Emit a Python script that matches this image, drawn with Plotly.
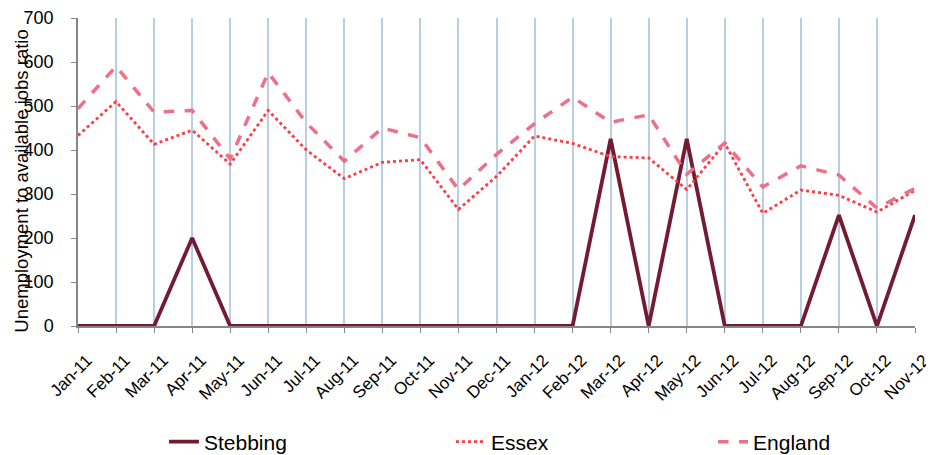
import plotly.graph_objects as go

months = ["Jan-11","Feb-11","Mar-11","Apr-11","May-11","Jun-11","Jul-11","Aug-11","Sep-11","Oct-11","Nov-11","Dec-11",
          "Jan-12","Feb-12","Mar-12","Apr-12","May-12","Jun-12","Jul-12","Aug-12","Sep-12","Oct-12","Nov-12"]
stebbing = [0,0,0,200,0,0,0,0,0,0,0,0,0,0,425,0,425,0,0,0,252,0,252]
essex = [433,510,413,445,368,490,400,335,372,378,265,340,432,415,385,382,310,415,256,309,297,259,308]
england = [494,590,486,490,380,576,462,375,450,428,310,390,460,520,463,480,345,416,316,364,343,268,313]

fig = go.Figure()
fig.add_trace(go.Scatter(x=months, y=stebbing, name="Stebbing", mode="lines", legend="legend",
                         line=dict(color="#741B32", width=3.8)))
fig.add_trace(go.Scatter(x=months, y=essex, name="Essex", mode="lines", legend="legend2",
                         line=dict(color="#FF3B45", width=2.8, dash="dot")))
fig.add_trace(go.Scatter(x=months, y=england, name="England", mode="lines", legend="legend3",
                         line=dict(color="#EE7087", width=3.5, dash="dash")))

leg_common = dict(orientation="h", xanchor="left", y=-0.3766, yanchor="middle",
                  font=dict(size=21), bgcolor="rgba(0,0,0,0)")

# the page body adds an 8px margin, so margins are offset to place the plot at 78..915 x 18..326
fig.update_layout(
    width=934, height=475,
    margin=dict(l=70, r=27, t=10, b=157),
    paper_bgcolor="white", plot_bgcolor="white",
    font=dict(family="Liberation Sans, Arial, sans-serif", color="#000000"),
    showlegend=True,
    legend=dict(x=0.1027, **leg_common),
    legend2=dict(x=0.4456, **leg_common),
    legend3=dict(x=0.7587, **leg_common),
    xaxis=dict(type="category", range=[0, 22], showgrid=True, gridcolor="#B9CDE5", gridwidth=1.5,
               showline=True, linecolor="#868686", linewidth=1.5, ticks="outside", ticklen=5,
               tickcolor="#868686", tickangle=-45, tickfont=dict(size=17), zeroline=False,
               ticklabelshift=9, ticklabelstandoff=11, automargin=False),
    yaxis=dict(range=[0, 700], dtick=100, showgrid=False, showline=True, linecolor="#868686",
               linewidth=1.5, ticks="outside", ticklen=5, tickcolor="#868686",
               tickfont=dict(size=18), zeroline=False, ticklabelstandoff=14, automargin=False),
    annotations=[dict(text="Unemployment to available jobs ratio", xref="paper", yref="paper",
                      x=-0.068, y=0.469, xanchor="center", yanchor="middle", textangle=-90,
                      showarrow=False, font=dict(size=18.5))],
)

fig.write_html("out.html")
